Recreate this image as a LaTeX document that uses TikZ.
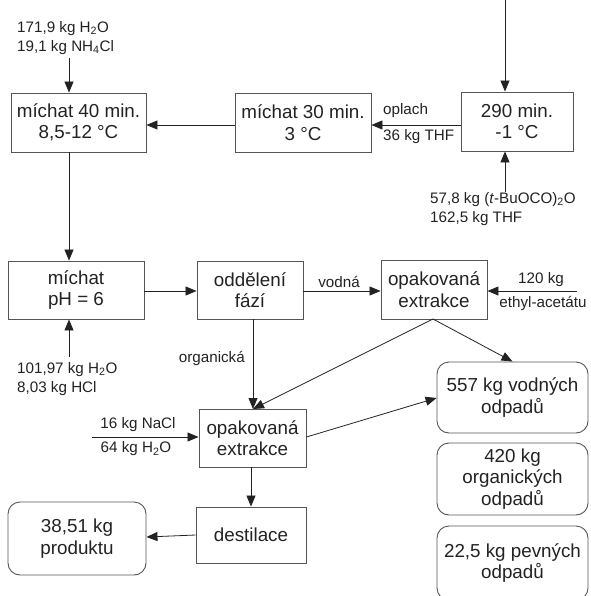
\documentclass[tikz,border=0pt]{standalone}
\usepackage{fontspec}
\setmainfont{Liberation Sans}
\usetikzlibrary{arrows.meta}
\definecolor{ink}{HTML}{222222}
\definecolor{edge}{HTML}{555555}
\tikzset{
  box/.style={draw=edge, line width=0.9pt, inner sep=0pt, align=center, text=ink,
    font=\fontsize{18.8}{21.5}\selectfont},
  rbox/.style={box, rounded corners=12pt},
  lbl/.style={inner sep=0pt, text=ink, font=\fontsize{15.2}{19}\selectfont},
  flow/.style={draw=ink, line width=0.8pt, -{Triangle[length=11pt,width=9pt]}},
}
\begin{document}
\begin{tikzpicture}[x=1pt,y=-1pt]
\useasboundingbox (0,0) rectangle (590,596);
\clip (0,0) rectangle (590,596);
% boxes
\node[box, minimum width=135, minimum height=59] (b1) at (78.5,122.5) {míchat 40 min.\\8,5-12 °C};
\node[box, minimum width=136, minimum height=59] (b2) at (303,122.5) {míchat 30 min.\\3 °C};
\node[box, minimum width=112, minimum height=59] (b3) at (517,121.5) {290 min.\\-1 °C};
\node[box, minimum width=136, minimum height=58] (b4) at (76,290) {míchat\\pH = 6};
\node[box, minimum width=106, minimum height=58] (b5) at (250,290) {oddělení\\fází};
\node[box, minimum width=106, minimum height=59] (b6) at (434,289.5) {opakovaná\\extrakce};
\node[box, minimum width=107, minimum height=58] (b7) at (252.5,438) {opakovaná\\extrakce};
\node[box, minimum width=110, minimum height=56] (b8) at (251,535) {destilace};
\node[rbox, minimum width=138, minimum height=73] (prod) at (77,538.5) {38,51 kg\\produktu};
\node[rbox, minimum width=151, minimum height=71] (w1) at (512.5,397.5) {557 kg vodných\\odpadů};
\node[rbox, minimum width=151, minimum height=72] (w2) at (512.5,479) {420 kg\\organických\\odpadů};
\node[rbox, minimum width=151, minimum height=74] (w3) at (512.5,563) {22,5 kg pevných\\odpadů};
% labels
\node[lbl, anchor=west, align=left] (l1) at (17,38) {171,9 kg H\textsubscript{2}O\\19,1 kg NH\textsubscript{4}Cl};
\node[lbl, anchor=west, align=left] (l3) at (430,209) {57,8 kg (\textit{t}-BuOCO)\textsubscript{2}O\\162,5 kg THF};
\node[lbl, anchor=west] (op) at (383,111) {oplach};
\node[lbl, anchor=west] (thf) at (383,137) {36 kg THF};
\node[lbl, anchor=west, align=left] (l4) at (17,379) {101,97 kg H\textsubscript{2}O\\8,03 kg HCl};
\node[lbl] (vo) at (339,282) {vodná};
\node[lbl] (et1) at (541,280) {120 kg};
\node[lbl] (et2) at (543,303) {ethyl-acetátu};
\node[lbl, anchor=east] (org) at (245,358) {organická};
\node[lbl] (na) at (138,425) {16 kg NaCl};
\node[lbl] (hw) at (136,449) {64 kg H\textsubscript{2}O};
% free ends
\coordinate (c3top) at (505,0);
\coordinate (c3bot) at (505,192);
\coordinate (c1top) at (69,58);
\coordinate (c4bot) at (69,357);
\coordinate (c6in) at (577,291);
\coordinate (c7in) at (92,437);
\coordinate (b6s) at (433,319);
\coordinate (b7n) at (253,409);
% connectors
\draw[flow] (c3top) -- (c3top |- b3.north);
\draw[flow] (c3bot) -- (c3bot |- b3.south);
\draw[flow] (b3.west |- 0,125) -- (b2.east |- 0,125);
\draw[flow] (b2.west |- 0,125) -- (b1.east |- 0,125);
\draw[flow] (c1top) -- (c1top |- b1.north);
\draw[flow] (c1top |- b1.south) -- (c1top |- b4.north);
\draw[flow] (c4bot) -- (c4bot |- b4.south);
\draw[flow] (b4.east |- 0,291) -- (b5.west |- 0,291);
\draw[flow] (b5.east |- 0,291) -- (b6.west |- 0,291);
\draw[flow] (c6in) -- (b6.east |- c6in);
\draw[flow] (b7n |- b5.south) -- (b7n);
\draw[flow] (b6s) -- (b7n);
\draw[flow] (b6s) -- (w1.north);
\draw[flow] (b7.east |- 0,437) -- (w1.west |- 0,398);
\draw[flow] (c7in) -- (b7.west |- c7in);
\draw[flow] (b7.south -| 251,0) -- (b8.north -| 251,0);
\draw[flow] (b8.west |- 0,535) -- (prod.east |- 0,537);
\end{tikzpicture}
\end{document}
